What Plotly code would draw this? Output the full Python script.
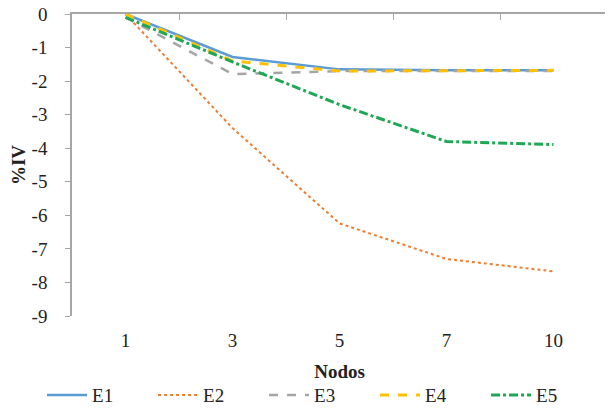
import plotly.graph_objects as go

nodos = ["1", "3", "5", "7", "10"]
e1 = [0.0, -1.28, -1.65, -1.68, -1.68]
e2 = [0.0, -3.40, -6.24, -7.30, -7.67]
e3 = [-0.10, -1.79, -1.70, -1.70, -1.70]
e4 = [0.0, -1.40, -1.70, -1.68, -1.68]
e5 = [-0.10, -1.43, -2.70, -3.80, -3.89]
y_ticks = [0, -1, -2, -3, -4, -5, -6, -7, -8, -9]
y_labels = ["0", "-1", "-2", "-3", "-4", "-5", "-6", "-7", "-8", "-9"]

series = [
    ("E1", e1, "#5B9BD5", "solid", 2.5),
    ("E2", e2, "#ED7D31", "dot", 2),
    ("E3", e3, "#A5A5A5", "dash", 2.5),
    ("E4", e4, "#FFC000", "dash", 3),
    ("E5", e5, "#1FA854", "dashdot", 3),
]

fig = go.Figure()
for name, vals, color, dash, w in series:
    fig.add_trace(go.Scatter(x=nodos, y=vals, name=name, mode="lines",
                             line=dict(color=color, dash=dash, width=w)))
fig.add_trace(go.Scatter(x=nodos, y=[None]*5, xaxis="x2", showlegend=False, hoverinfo="skip"))

SERIF = "'Times New Roman', 'Liberation Serif', 'DejaVu Serif', serif"
FS = 19
font = dict(family=SERIF, size=FS, color="#222")

# page body has an 8px margin: figure is sized/offset to compensate
fig.update_layout(
    width=605, height=404,
    margin=dict(l=64, r=6, t=6, b=96, autoexpand=False),
    paper_bgcolor="white", plot_bgcolor="white",
    font=font,
    xaxis=dict(type="category", categoryorder="array", categoryarray=nodos,
               range=[-0.5, 4.5], automargin=False,
               showline=False, ticks="", showgrid=False, zeroline=False,
               ticklabelstandoff=11,
               title=dict(text="<b>Nodos</b>", font=dict(family=SERIF, size=FS), standoff=14),
               tickfont=dict(family=SERIF, size=FS)),
    xaxis2=dict(type="category", categoryorder="array", categoryarray=nodos,
                overlaying="x", side="top", matches="x", automargin=False,
                showline=True, linecolor="#A6A6A6", linewidth=1.5,
                ticks="inside", tickson="boundaries", ticklen=6, tickcolor="#A6A6A6",
                showticklabels=False, showgrid=False, zeroline=False),
    yaxis=dict(range=[-9, 0], tickvals=y_ticks, ticktext=y_labels,
               showgrid=False, zeroline=False, automargin=False,
               showline=True, linecolor="#A6A6A6", linewidth=1.5,
               ticks="outside", ticklen=5, tickcolor="#A6A6A6",
               ticklabeloverflow="allow",
               tickfont=dict(family=SERIF, size=FS), ticklabelstandoff=14,
               title=dict(text="<b>%IV</b>", font=dict(family=SERIF, size=FS), standoff=6)),
    legend=dict(orientation="h", x=-0.056, xanchor="left", y=-0.262, yanchor="middle",
                entrywidth=56, itemwidth=40, font=dict(family=SERIF, size=FS)),
)

fig.write_html("out.html", config={"displayModeBar": False})
